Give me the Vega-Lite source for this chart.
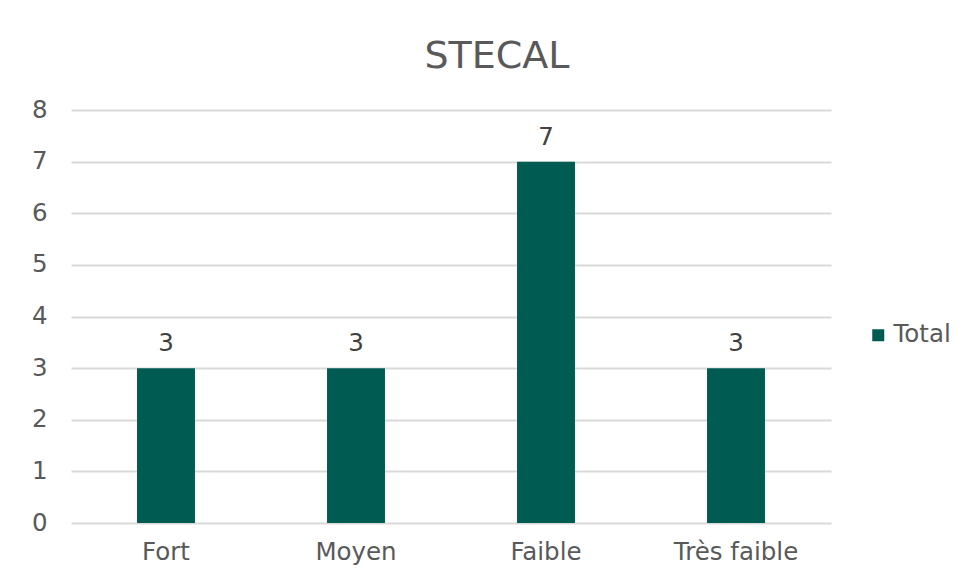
{
  "$schema": "https://vega.github.io/schema/vega-lite/v6.json",
  "autosize": {"type": "none"},
  "width": 760,
  "height": 413,
  "padding": {"left": 71, "top": 110, "right": 131, "bottom": 57},
  "background": "white",
  "title": {
    "text": "STECAL",
    "fontSize": 38,
    "font": "DejaVu Sans",
    "fontWeight": "normal",
    "color": "#595959",
    "anchor": "middle",
    "frame": "group",
    "dx": 46,
    "baseline": "alphabetic",
    "offset": -9
  },
  "data": {
    "values": [
      {"cat": "Fort", "value": 3, "series": "Total"},
      {"cat": "Moyen", "value": 3, "series": "Total"},
      {"cat": "Faible", "value": 7, "series": "Total"},
      {"cat": "Très faible", "value": 3, "series": "Total"}
    ]
  },
  "encoding": {
    "x": {
      "field": "cat",
      "type": "nominal",
      "sort": null,
      "title": null,
      "scale": {"paddingInner": 0.695, "paddingOuter": 0.3475},
      "axis": {
        "labelAngle": 0,
        "domain": false,
        "ticks": false,
        "labelPadding": 17,
        "labelFontSize": 24.5,
        "labelFont": "DejaVu Sans",
        "labelColor": "#595959"
      }
    },
    "y": {
      "field": "value",
      "type": "quantitative",
      "title": null,
      "scale": {"domain": [0, 8]},
      "axis": {
        "values": [0, 1, 2, 3, 4, 5, 6, 7, 8],
        "labelOverlap": false,
        "domain": false,
        "ticks": false,
        "labelPadding": 24,
        "labelFontSize": 24.5,
        "labelFont": "DejaVu Sans",
        "labelColor": "#595959",
        "gridColor": "#d9d9d9",
        "gridWidth": 2
      }
    }
  },
  "layer": [
    {
      "mark": {"type": "bar", "color": "#005B52"},
      "encoding": {
        "color": {
          "field": "series",
          "type": "nominal",
          "scale": {"range": ["#005B52"]},
          "legend": {
            "title": null,
            "orient": "none",
            "legendX": 795,
            "legendY": 213,
            "symbolType": "square",
            "symbolSize": 144,
            "symbolStrokeWidth": 0,
            "labelFontSize": 24.5,
            "labelFont": "DejaVu Sans",
            "labelColor": "#595959",
            "labelOffset": 3
          }
        }
      }
    },
    {
      "mark": {"type": "text", "dy": -24, "fontSize": 24.5, "font": "DejaVu Sans", "color": "#404040"},
      "encoding": {"text": {"field": "value", "type": "quantitative"}}
    }
  ],
  "config": {"view": {"stroke": null}}
}
